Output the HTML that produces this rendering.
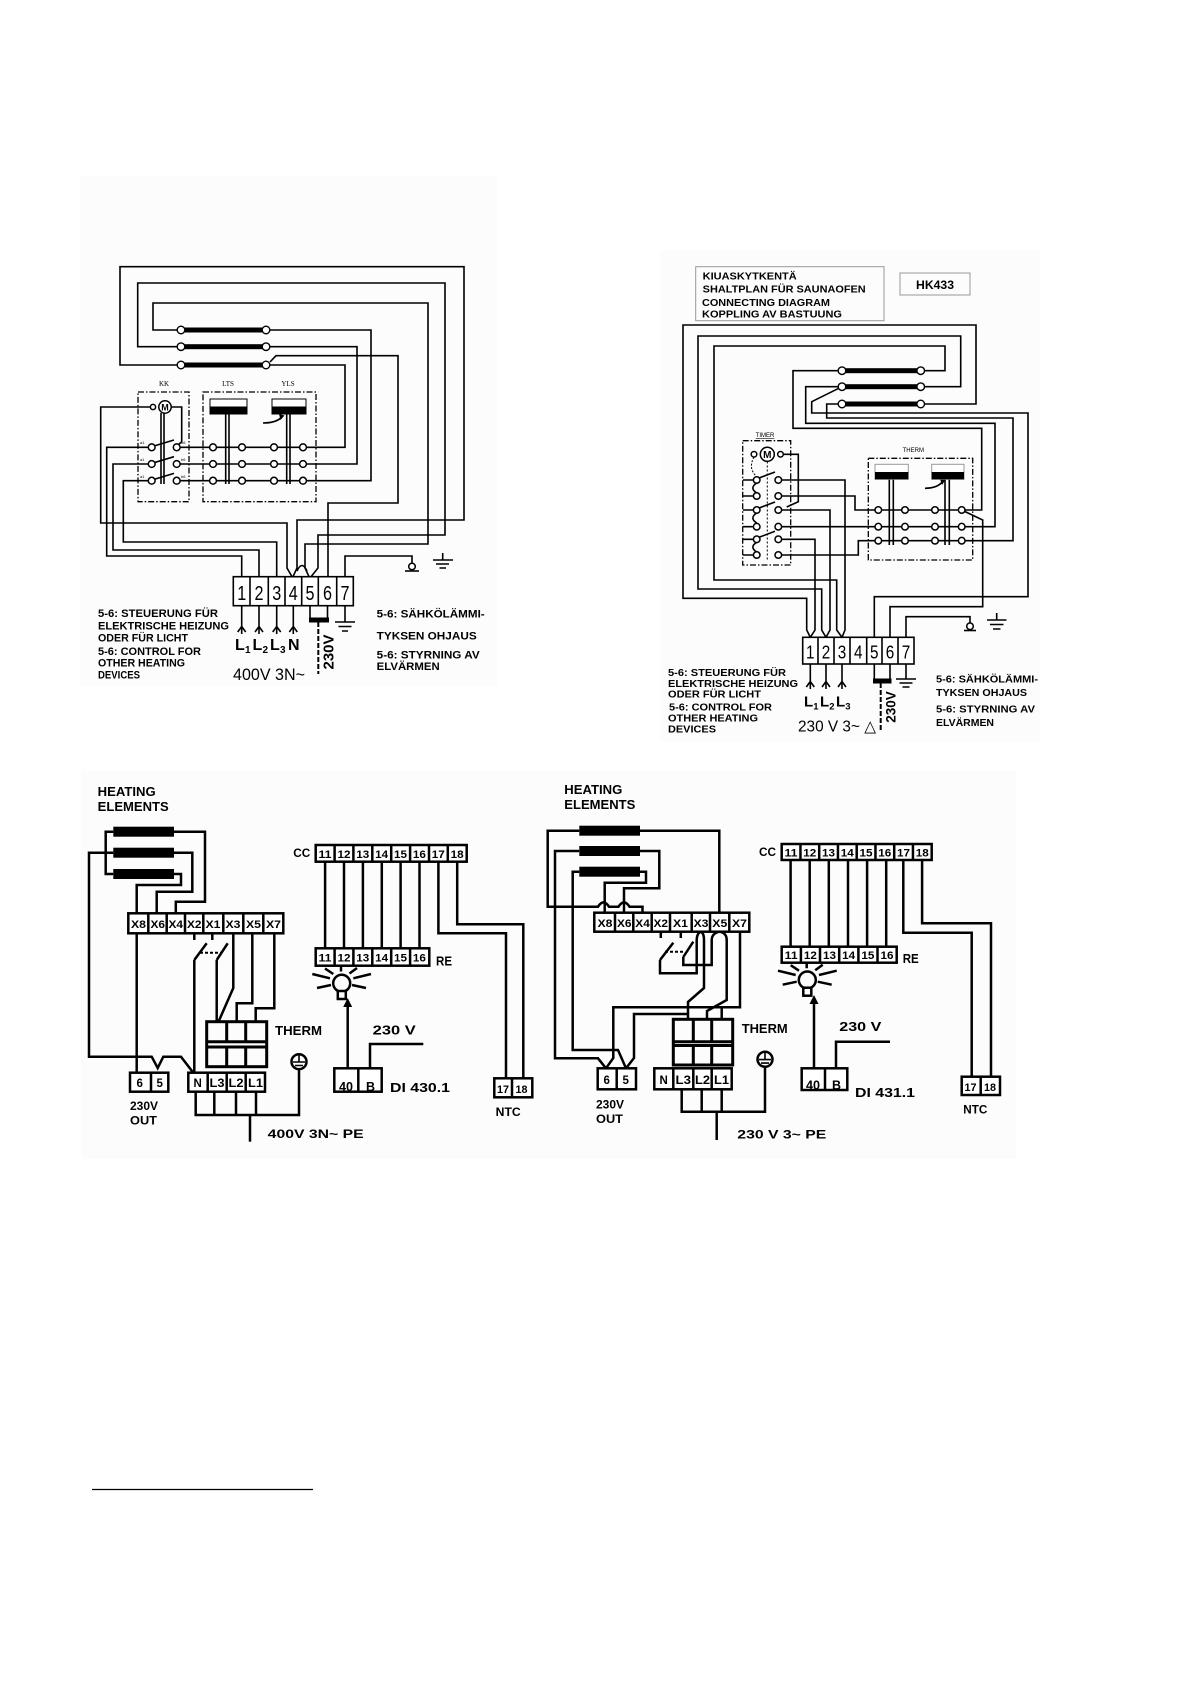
<!DOCTYPE html>
<html><head><meta charset="utf-8"><style>
html,body{margin:0;padding:0;background:#fff;}
svg{display:block}
text{font-family:"Liberation Sans",sans-serif;fill:#000;}
.b{font-weight:bold}
</style></head><body>
<svg width="1191" height="1685" viewBox="0 0 1191 1685" xmlns="http://www.w3.org/2000/svg">
<rect width="1191" height="1685" fill="#fff"/>
<rect x="80" y="176" width="417" height="510" fill="#fcfcfc"/>
<rect x="660" y="250" width="380" height="492" fill="#fcfcfc"/>
<rect x="81" y="771" width="935" height="388" fill="#fcfcfc"/>
<line x1="92" y1="1489.5" x2="313" y2="1489.5" stroke="#000" stroke-width="1.3"/>

<!-- ============ TOP LEFT ============ -->
<g fill="none" stroke="#000" stroke-width="1.6">
<path d="M181,365 H120 V266.7 H464 V520 H297 V568 L293,576.7"/>
<path d="M181,346.7 H137.7 V283 H445 V535 H318 V568 L311,576.7"/>
<path d="M181,330 H153 V303 H428 V544 H305 V568 L309,576.7"/>
<path d="M297,571 Q302,560 307,571"/>
<path d="M270,362 L276,355.7 H398 V503 H328 V576.7"/>
<path d="M270,330 H371 V480.7 H303"/>
<path d="M270,346.7 H357 V464 H303"/>
<path d="M270,365 H345 V447.3 H303"/>
<path d="M150,407 H100.7 V523 H287 V568 L292,576.7"/>
<path d="M241.7,576.7 V556 H106.7 V447.3 H150"/>
<path d="M259,576.7 V550 H113 V464 H150"/>
<path d="M276.7,576.7 V542 H123.3 V480.7 H150"/>
<path d="M176.7,447.3 H303 M176.7,464 H303 M176.7,480.7 H303"/>
<path d="M154,446 L174,440 M154,462.7 L174,456.7 M154,479.4 L174,473.4"/>
<path d="M161,413 V484 M164,413 V484"/>
<path d="M171,407 H181.7 V441.7 L177,446"/>
<path d="M225.7,414 V484 M229,414 V484 M286.7,414 V484 M290,414 V484"/>
<path d="M263,423 Q276,423 282,417"/>
<path d="M345,576.7 V556 H412 V563"/>
<path d="M405,571 H419"/>
<path d="M442.7,553 V560 M433,560 H453 M436,564 H449 M439.5,568 H446"/>
</g>
<path d="M279,414 L284.5,415.5 L280.5,420 Z" fill="#000"/>
<g fill="none" stroke="#000" stroke-width="1.3" stroke-dasharray="6 2 1.5 2">
<rect x="138" y="392" width="51" height="109.7"/>
<rect x="203" y="392" width="113" height="109.7"/>
</g>
<g>
<rect x="184" y="327.5" width="83" height="5" fill="#000"/>
<rect x="184" y="344.2" width="83" height="5" fill="#000"/>
<rect x="184" y="362.5" width="83" height="5" fill="#000"/>
<g fill="#fff" stroke="#000" stroke-width="1.4">
<circle cx="181" cy="330" r="3.8"/><circle cx="266" cy="330" r="3.8"/>
<circle cx="181" cy="346.7" r="3.8"/><circle cx="266" cy="346.7" r="3.8"/>
<circle cx="181" cy="365" r="3.8"/><circle cx="266" cy="365" r="3.8"/>
</g>
</g>
<g fill="#fff" stroke="#000" stroke-width="1.5">
<circle cx="151.7" cy="447.3" r="3.4"/><circle cx="176.7" cy="447.3" r="3.4"/><circle cx="213" cy="447.3" r="3.4"/><circle cx="242" cy="447.3" r="3.4"/><circle cx="274" cy="447.3" r="3.4"/><circle cx="303" cy="447.3" r="3.4"/>
<circle cx="151.7" cy="464" r="3.4"/><circle cx="176.7" cy="464" r="3.4"/><circle cx="213" cy="464" r="3.4"/><circle cx="242" cy="464" r="3.4"/><circle cx="274" cy="464" r="3.4"/><circle cx="303" cy="464" r="3.4"/>
<circle cx="151.7" cy="480.7" r="3.4"/><circle cx="176.7" cy="480.7" r="3.4"/><circle cx="213" cy="480.7" r="3.4"/><circle cx="242" cy="480.7" r="3.4"/><circle cx="274" cy="480.7" r="3.4"/><circle cx="303" cy="480.7" r="3.4"/>
<circle cx="165" cy="407" r="6.2"/><circle cx="153" cy="407" r="2.6"/>
<circle cx="412" cy="566.5" r="3.3"/>
</g>
<text x="165" y="410.5" font-size="9" class="b" text-anchor="middle">M</text>
<rect x="210" y="399" width="37" height="15" fill="#fff" stroke="#000" stroke-width="1"/>
<rect x="210" y="406.5" width="37" height="7.5" fill="#000"/>
<rect x="272" y="399" width="34" height="15" fill="#fff" stroke="#000" stroke-width="1"/>
<rect x="272" y="406.5" width="34" height="7.5" fill="#000"/>
<text x="164" y="386" font-size="7" text-anchor="middle" style="font-family:'Liberation Serif',serif">KK</text>
<text x="228" y="386" font-size="7" text-anchor="middle" style="font-family:'Liberation Serif',serif">LTS</text>
<text x="288" y="386" font-size="7" text-anchor="middle" style="font-family:'Liberation Serif',serif">YLS</text>
<g font-size="4" style="font-family:'Liberation Serif',serif">
<text x="140" y="444">a1</text><text x="140" y="461">a1</text><text x="140" y="478">a1</text>
<text x="181" y="444">b6</text><text x="181" y="461">b6</text><text x="181" y="478">b6</text>
</g>
<rect x="233.3" y="576.7" width="120" height="29" fill="#fff" stroke="#000" stroke-width="1.6"/>
<path d="M250,576.7 V605.7 M268.3,576.7 V605.7 M285,576.7 V605.7 M301.7,576.7 V605.7 M318.3,576.7 V605.7 M336.7,576.7 V605.7" stroke="#000" stroke-width="1.6"/>
<g font-size="20">
<text x="237.2" y="600" textLength="9" lengthAdjust="spacingAndGlyphs">1</text>
<text x="254.5" y="600" textLength="9" lengthAdjust="spacingAndGlyphs">2</text>
<text x="272.2" y="600" textLength="9" lengthAdjust="spacingAndGlyphs">3</text>
<text x="288.8" y="600" textLength="9" lengthAdjust="spacingAndGlyphs">4</text>
<text x="305.5" y="600" textLength="9" lengthAdjust="spacingAndGlyphs">5</text>
<text x="323" y="600" textLength="9" lengthAdjust="spacingAndGlyphs">6</text>
<text x="340.5" y="600" textLength="9" lengthAdjust="spacingAndGlyphs">7</text>
</g>
<g fill="none" stroke="#000" stroke-width="1.6">
<path d="M241.7,605.7 V634 M237.7,632 L241.7,626.5 L245.7,632"/>
<path d="M259,605.7 V634 M255,632 L259,626.5 L263,632"/>
<path d="M276.7,605.7 V634 M272.7,632 L276.7,626.5 L280.7,632"/>
<path d="M293.3,605.7 V634 M289.3,632 L293.3,626.5 L297.3,632"/>
<path d="M310,605.7 V620 M327.5,605.7 V620"/>
<path d="M345,605.7 V622 M335,622 H355 M338.5,626.5 H351.5 M342,631 H348"/>
</g>
<rect x="309" y="617.5" width="20" height="5" fill="#000"/>
<line x1="318.3" y1="622" x2="318.3" y2="674" stroke="#000" stroke-width="2" stroke-dasharray="5 2"/>
<text transform="translate(333.5,652) rotate(-90)" font-size="15" class="b" text-anchor="middle">230V</text>
<g class="b">
<text x="235" y="650" font-size="16">L</text><text x="245" y="653" font-size="10">1</text>
<text x="252.5" y="650" font-size="16">L</text><text x="262.5" y="653" font-size="10">2</text>
<text x="270" y="650" font-size="16">L</text><text x="280" y="653" font-size="10">3</text>
<text x="288" y="650" font-size="16">N</text>
</g>
<text x="233" y="680" font-size="17" textLength="72" lengthAdjust="spacingAndGlyphs">400V 3N~</text>
<g font-size="11" class="b">
<text x="98" y="617" textLength="120" lengthAdjust="spacingAndGlyphs">5-6: STEUERUNG FÜR</text>
<text x="98" y="629.3" textLength="131" lengthAdjust="spacingAndGlyphs">ELEKTRISCHE HEIZUNG</text>
<text x="98" y="641.7" textLength="90" lengthAdjust="spacingAndGlyphs">ODER FÜR LICHT</text>
<text x="98" y="655" textLength="103" lengthAdjust="spacingAndGlyphs">5-6: CONTROL FOR</text>
<text x="98" y="666.7" textLength="87" lengthAdjust="spacingAndGlyphs">OTHER HEATING</text>
<text x="98" y="678.3" textLength="42" lengthAdjust="spacingAndGlyphs">DEVICES</text>
<text x="376.7" y="617.3" textLength="108" lengthAdjust="spacingAndGlyphs">5-6: SÄHKÖLÄMMI-</text>
<text x="376.7" y="639.3" textLength="100" lengthAdjust="spacingAndGlyphs">TYKSEN OHJAUS</text>
<text x="376.7" y="658.3" textLength="103" lengthAdjust="spacingAndGlyphs">5-6: STYRNING AV</text>
<text x="376.7" y="670" textLength="63" lengthAdjust="spacingAndGlyphs">ELVÄRMEN</text>
</g>

<!-- ============ TOP RIGHT ============ -->
<rect x="695.7" y="266.7" width="188.3" height="54" fill="none" stroke="#999" stroke-width="1"/>
<g font-size="10.5" class="b">
<text x="702.7" y="279.5" textLength="94" lengthAdjust="spacingAndGlyphs">KIUASKYTKENTÄ</text>
<text x="702.7" y="292.5" textLength="163" lengthAdjust="spacingAndGlyphs">SHALTPLAN FÜR SAUNAOFEN</text>
<text x="702" y="306" textLength="128" lengthAdjust="spacingAndGlyphs">CONNECTING DIAGRAM</text>
<text x="702" y="317.5" textLength="140" lengthAdjust="spacingAndGlyphs">KOPPLING AV BASTUUNG</text>
</g>
<rect x="900" y="273" width="70" height="22" fill="none" stroke="#999" stroke-width="1"/>
<text x="916" y="289" font-size="12" class="b" textLength="38" lengthAdjust="spacingAndGlyphs">HK433</text>
<g fill="none" stroke="#000" stroke-width="1.6">
<path d="M920.7,370.7 H945 V346 H714 V580 H836.7 V630 L842,637.3"/>
<path d="M920.7,386.7 H960.7 V336 H698 V589 H821.7 V630 L826,637.3"/>
<path d="M920.7,404 H976 V325 H683 V598.3 H806.7 V630 L810.3,637.3"/>
<path d="M842,370.7 H793 V428.3 H981.7 V510 H961.7"/>
<path d="M842,386.7 L811.7,401.7 V413 H1028 V596.7 H874.3 V637.3"/>
<path d="M842,386.7 H805.7 V423.3 H995 V526.7 H961.7"/>
<path d="M842,404 H826.7 V418 H1013 V540.7 H961.7"/>
<path d="M961.7,510 L982.7,520 V606.7 H890 V637.3"/>
<path d="M778.3,480 H845 V630 L842,637.3"/>
<path d="M778.3,510 H830 V630 L826,637.3"/>
<path d="M778.3,539.3 H815 V630 L810.3,637.3"/>
<path d="M778.3,496 H855 V510 H961.7"/>
<path d="M778.3,526.7 H961.7"/>
<path d="M778.3,555 H858.3 V540.7 H961.7"/>
<path d="M743,480 H756.7 M743,496 H756.7 M743,510 H756.7 M743,526.7 H756.7 M743,539.3 H756.7 M743,555 H756.7"/>
<path d="M759,478 L775,472 M759,508 L775,502 M759,537.3 L775,531.3"/>
<path d="M756.7,483 Q749,488 756.7,493 M756.7,513 Q749,518 756.7,523 M756.7,542.3 Q749,547 756.7,552"/>
<path d="M782.3,454.3 H798.3 V501.7 L786.7,507"/>
<path d="M889.3,479.3 V545 M893.3,479.3 V545 M945,479.3 V545 M949.3,479.3 V545"/>
<path d="M925,488.3 Q938,488 942.5,481.5"/>
<path d="M906,637.3 V616.7 H970 V623"/>
<path d="M964,630.5 H976"/>
<path d="M996.7,613 V620 M987,620 H1006.5 M990,624.5 H1003.5 M993,629 H1000.5"/>
</g>
<path d="M940,479 L945.5,480 L942,485 Z" fill="#000"/>
<path d="M754,457 Q748,468 756,476" fill="none" stroke="#000" stroke-width="1" stroke-dasharray="2 1.5"/>
<line x1="767.3" y1="461.5" x2="767.3" y2="560" stroke="#000" stroke-width="1" stroke-dasharray="2 2"/>
<g fill="none" stroke="#000" stroke-width="1.3" stroke-dasharray="6 2 1.5 2">
<rect x="742.7" y="440.7" width="48" height="124.3"/>
<rect x="868.3" y="458.3" width="104.4" height="101.7"/>
</g>
<rect x="845" y="368.2" width="73" height="5" fill="#000"/>
<rect x="845" y="384.2" width="73" height="5" fill="#000"/>
<rect x="845" y="401.5" width="73" height="5" fill="#000"/>
<g fill="#fff" stroke="#000" stroke-width="1.4">
<circle cx="842" cy="370.7" r="3.8"/><circle cx="920.7" cy="370.7" r="3.8"/>
<circle cx="842" cy="386.7" r="3.8"/><circle cx="920.7" cy="386.7" r="3.8"/>
<circle cx="842" cy="404" r="3.8"/><circle cx="920.7" cy="404" r="3.8"/>
</g>
<g fill="#fff" stroke="#000" stroke-width="1.5">
<circle cx="756.7" cy="480" r="3.3"/><circle cx="778.3" cy="480" r="3.3"/>
<circle cx="756.7" cy="496" r="3.3"/><circle cx="778.3" cy="496" r="3.3"/>
<circle cx="756.7" cy="510" r="3.3"/><circle cx="778.3" cy="510" r="3.3"/>
<circle cx="756.7" cy="526.7" r="3.3"/><circle cx="778.3" cy="526.7" r="3.3"/>
<circle cx="756.7" cy="539.3" r="3.3"/><circle cx="778.3" cy="539.3" r="3.3"/>
<circle cx="756.7" cy="555" r="3.3"/><circle cx="778.3" cy="555" r="3.3"/>
<circle cx="878.3" cy="510" r="3.3"/><circle cx="905" cy="510" r="3.3"/><circle cx="935" cy="510" r="3.3"/><circle cx="961.7" cy="510" r="3.3"/>
<circle cx="878.3" cy="526.7" r="3.3"/><circle cx="905" cy="526.7" r="3.3"/><circle cx="935" cy="526.7" r="3.3"/><circle cx="961.7" cy="526.7" r="3.3"/>
<circle cx="878.3" cy="540.7" r="3.3"/><circle cx="905" cy="540.7" r="3.3"/><circle cx="935" cy="540.7" r="3.3"/><circle cx="961.7" cy="540.7" r="3.3"/>
<circle cx="767.3" cy="454.3" r="7"/><circle cx="754" cy="454.3" r="2.8"/><circle cx="780.5" cy="454.3" r="2.8"/>
<circle cx="970" cy="626.3" r="3.3"/>
</g>
<text x="767.3" y="458" font-size="10" class="b" text-anchor="middle">M</text>
<text x="765" y="437" font-size="6" text-anchor="middle" text-decoration="underline">TIMER</text>
<text x="913.3" y="452" font-size="6" text-anchor="middle">THERM</text>
<rect x="875" y="464.3" width="33.3" height="15" fill="#fff" stroke="#999" stroke-width="1"/>
<rect x="875" y="472" width="33.3" height="7.3" fill="#000"/>
<rect x="931.7" y="464.3" width="32.3" height="15" fill="#fff" stroke="#999" stroke-width="1"/>
<rect x="931.7" y="472" width="32.3" height="7.3" fill="#000"/>
<rect x="802.7" y="637.3" width="111.3" height="26.7" fill="#fff" stroke="#000" stroke-width="1.6"/>
<path d="M818,637.3 V664 M834,637.3 V664 M850,637.3 V664 M866.7,637.3 V664 M882,637.3 V664 M898,637.3 V664" stroke="#000" stroke-width="1.6"/>
<g font-size="18.5">
<text x="806" y="658.5" textLength="8.5" lengthAdjust="spacingAndGlyphs">1</text>
<text x="821.8" y="658.5" textLength="8.5" lengthAdjust="spacingAndGlyphs">2</text>
<text x="837.8" y="658.5" textLength="8.5" lengthAdjust="spacingAndGlyphs">3</text>
<text x="854" y="658.5" textLength="8.5" lengthAdjust="spacingAndGlyphs">4</text>
<text x="870" y="658.5" textLength="8.5" lengthAdjust="spacingAndGlyphs">5</text>
<text x="885.8" y="658.5" textLength="8.5" lengthAdjust="spacingAndGlyphs">6</text>
<text x="901.8" y="658.5" textLength="8.5" lengthAdjust="spacingAndGlyphs">7</text>
</g>
<g fill="none" stroke="#000" stroke-width="1.6">
<path d="M810.3,664 V689 M806.3,687 L810.3,681.5 L814.3,687"/>
<path d="M826,664 V689 M822,687 L826,681.5 L830,687"/>
<path d="M842,664 V689 M838,687 L842,681.5 L846,687"/>
<path d="M874.3,664 V680 M890,664 V680"/>
<path d="M906,664 V679 M896,679 H916 M899.5,683 H912.5 M902.5,687 H909.5"/>
</g>
<rect x="873" y="678.5" width="18.5" height="5" fill="#000"/>
<line x1="880.7" y1="683" x2="880.7" y2="731" stroke="#000" stroke-width="2" stroke-dasharray="5 2"/>
<text transform="translate(895.5,707) rotate(-90)" font-size="13.5" class="b" text-anchor="middle">230V</text>
<g class="b">
<text x="804" y="706.7" font-size="15">L</text><text x="813.3" y="709.5" font-size="9.5">1</text>
<text x="820" y="706.7" font-size="15">L</text><text x="829.3" y="709.5" font-size="9.5">2</text>
<text x="836" y="706.7" font-size="15">L</text><text x="845.3" y="709.5" font-size="9.5">3</text>
</g>
<text x="798" y="731.7" font-size="16" textLength="78" lengthAdjust="spacingAndGlyphs">230 V 3~ △</text>
<g font-size="10.5" class="b">
<text x="668" y="676" textLength="118" lengthAdjust="spacingAndGlyphs">5-6: STEUERUNG FÜR</text>
<text x="668" y="687" textLength="130" lengthAdjust="spacingAndGlyphs">ELEKTRISCHE HEIZUNG</text>
<text x="668" y="697.5" textLength="93" lengthAdjust="spacingAndGlyphs">ODER FÜR LICHT</text>
<text x="669" y="710.5" textLength="103" lengthAdjust="spacingAndGlyphs">5-6: CONTROL FOR</text>
<text x="668" y="721.7" textLength="90" lengthAdjust="spacingAndGlyphs">OTHER HEATING</text>
<text x="668" y="732.7" textLength="48" lengthAdjust="spacingAndGlyphs">DEVICES</text>
<text x="936" y="682.3" textLength="102" lengthAdjust="spacingAndGlyphs">5-6: SÄHKÖLÄMMI-</text>
<text x="936" y="696" textLength="91" lengthAdjust="spacingAndGlyphs">TYKSEN OHJAUS</text>
<text x="936" y="712.3" textLength="99" lengthAdjust="spacingAndGlyphs">5-6: STYRNING AV</text>
<text x="936" y="726" textLength="58" lengthAdjust="spacingAndGlyphs">ELVÄRMEN</text>
</g>

<!-- ============ BOTTOM LEFT ============ -->
<g font-size="13" class="b">
<text x="97.7" y="796" textLength="58" lengthAdjust="spacingAndGlyphs">HEATING</text>
<text x="97.7" y="811" textLength="71" lengthAdjust="spacingAndGlyphs">ELEMENTS</text>
</g>
<g fill="none" stroke="#000" stroke-width="2.5">
<path d="M113.3,831.7 H105.7 V874 H113.3"/>
<path d="M113.3,852.7 H89 V1056.7 H151.7 L157.7,1068 L163.3,1056.7 H181 L193.3,1072.7"/>
<path d="M174,831.7 H205 V901.7 H175.8 V913.3"/>
<path d="M174,852.7 H192.3 V891.7 H156.7 V913.3"/>
<path d="M174,874 H181 V885 H136.7 V1072.7"/>
<path d="M194.3,933.3 V940 M212.3,933.3 V940"/>
<path d="M194.3,960 L206.7,943.3 M216.7,960 L227.7,943.3"/>
<path d="M194.3,960 V1072.7"/>
<path d="M216.7,960 V1021.7"/>
<path d="M233.3,933.3 V988 L218.5,1021.7"/>
<path d="M252.3,933.3 V1003.3 H236.7 V1021.7"/>
<path d="M274.3,933.3 V1008.3 H255.7 V1021.7"/>
<path d="M195.7,1091.7 V1115 H299 V1069.2"/>
<path d="M214.3,1091.7 V1115 M236,1091.7 V1115 M256,1091.7 V1115"/>
<path d="M250,1115 V1141.7"/>
<circle cx="299" cy="1061.7" r="7.5"/>
<path d="M325.1,861.7 V948.3 M344,861.7 V948.3 M362.9,861.7 V948.3 M381.8,861.7 V948.3 M400.6,861.7 V948.3 M419.5,861.7 V948.3"/>
<path d="M438.4,861.7 V933.3 H506 V1078.3"/>
<path d="M457.2,861.7 V924.3 H523.3 V1078.3"/>
<circle cx="341.7" cy="983.3" r="8.5"/>
<path d="M312.3,974 L330,978.3 M325,968.5 L333.3,974 M341,964.5 V971.5 M349.5,973.5 L357,968 M353.3,978.3 L371,974 M317,988 L331,985 M352,985 L366,988"/>
<path d="M347.7,1068.3 V1005"/>
<path d="M370,1068.3 V1044 H423.3"/>
</g>
<line x1="200" y1="952.7" x2="222" y2="952.7" stroke="#000" stroke-width="2" stroke-dasharray="3 2"/>
<path d="M299,1055 V1062 M293,1062 H305 M295,1065.5 H303 M297.3,1069 H300.7" stroke="#000" stroke-width="1.6" fill="none"/>
<path d="M347.7,998 L343.2,1007 L352.2,1007 Z" fill="#000"/>
<rect x="337.8" y="991" width="8" height="8" fill="#fff" stroke="#000" stroke-width="2.5"/>
<rect x="113.3" y="826.7" width="60.7" height="10" fill="#000"/>
<rect x="113.3" y="847.7" width="60.7" height="10" fill="#000"/>
<rect x="113.3" y="869" width="60.7" height="10" fill="#000"/>
<rect x="128.3" y="913.3" width="155" height="20" fill="#fff" stroke="#000" stroke-width="2.5"/>
<path d="M148.3,913.3 V933.3 M166.7,913.3 V933.3 M185,913.3 V933.3 M203.3,913.3 V933.3 M223.3,913.3 V933.3 M243.3,913.3 V933.3 M263.3,913.3 V933.3" stroke="#000" stroke-width="2.5"/>
<g font-size="11" class="b">
<text x="131" y="928" textLength="15" lengthAdjust="spacingAndGlyphs">X8</text>
<text x="150.5" y="928" textLength="14.5" lengthAdjust="spacingAndGlyphs">X6</text>
<text x="168.5" y="928" textLength="14.5" lengthAdjust="spacingAndGlyphs">X4</text>
<text x="187" y="928" textLength="14.5" lengthAdjust="spacingAndGlyphs">X2</text>
<text x="205.5" y="928" textLength="15" lengthAdjust="spacingAndGlyphs">X1</text>
<text x="225.5" y="928" textLength="15" lengthAdjust="spacingAndGlyphs">X3</text>
<text x="246" y="928" textLength="15" lengthAdjust="spacingAndGlyphs">X5</text>
<text x="266" y="928" textLength="15" lengthAdjust="spacingAndGlyphs">X7</text>
</g>
<g fill="none" stroke="#000" stroke-width="3">
<rect x="206.7" y="1021.7" width="60" height="45"/>
<path d="M206.7,1041.7 H266.7 M206.7,1047 H266.7 M226.7,1021.7 V1041.7 M245.7,1021.7 V1041.7 M226.7,1047 V1066.7 M245.7,1047 V1066.7"/>
</g>
<text x="275" y="1035" font-size="13" class="b" textLength="47" lengthAdjust="spacingAndGlyphs">THERM</text>
<g fill="#fff" stroke="#000" stroke-width="2.5">
<rect x="130" y="1072.7" width="38.3" height="19"/>
<rect x="188.3" y="1072.7" width="76.7" height="19"/>
</g>
<path d="M151,1072.7 V1091.7 M207.7,1072.7 V1091.7 M226.7,1072.7 V1091.7 M245.7,1072.7 V1091.7" stroke="#000" stroke-width="2.5"/>
<g font-size="11.5" class="b">
<text x="136.5" y="1087">6</text>
<text x="156.5" y="1087">5</text>
<text x="193.5" y="1087">N</text>
<text x="209.5" y="1087" textLength="15" lengthAdjust="spacingAndGlyphs">L3</text>
<text x="228.5" y="1087" textLength="15" lengthAdjust="spacingAndGlyphs">L2</text>
<text x="248" y="1087" textLength="15" lengthAdjust="spacingAndGlyphs">L1</text>
</g>
<g font-size="12" class="b">
<text x="130" y="1110" textLength="28" lengthAdjust="spacingAndGlyphs">230V</text>
<text x="130" y="1124.5" textLength="27" lengthAdjust="spacingAndGlyphs">OUT</text>
<text x="267.7" y="1138" textLength="96" lengthAdjust="spacingAndGlyphs">400V 3N~ PE</text>
</g>
<text x="293.3" y="857" font-size="12" class="b" textLength="17" lengthAdjust="spacingAndGlyphs">CC</text>
<rect x="315.7" y="845" width="151" height="16.7" fill="#fff" stroke="#000" stroke-width="2.5"/>
<path d="M334.6,845 V861.7 M353.4,845 V861.7 M372.3,845 V861.7 M391.2,845 V861.7 M410.1,845 V861.7 M429,845 V861.7 M447.8,845 V861.7" stroke="#000" stroke-width="2.5"/>
<rect x="315.7" y="948.3" width="113.6" height="17.4" fill="#fff" stroke="#000" stroke-width="2.5"/>
<path d="M334.6,948.3 V965.7 M353.4,948.3 V965.7 M372.3,948.3 V965.7 M391.2,948.3 V965.7 M410.1,948.3 V965.7" stroke="#000" stroke-width="2.5"/>
<g font-size="11" class="b">
<text x="318.5" y="858" textLength="13" lengthAdjust="spacingAndGlyphs">11</text>
<text x="337.5" y="858" textLength="13" lengthAdjust="spacingAndGlyphs">12</text>
<text x="356.3" y="858" textLength="13" lengthAdjust="spacingAndGlyphs">13</text>
<text x="375.2" y="858" textLength="13" lengthAdjust="spacingAndGlyphs">14</text>
<text x="394" y="858" textLength="13" lengthAdjust="spacingAndGlyphs">15</text>
<text x="412.9" y="858" textLength="13" lengthAdjust="spacingAndGlyphs">16</text>
<text x="431.8" y="858" textLength="13" lengthAdjust="spacingAndGlyphs">17</text>
<text x="450.6" y="858" textLength="13" lengthAdjust="spacingAndGlyphs">18</text>
<text x="318.5" y="961.5" textLength="13" lengthAdjust="spacingAndGlyphs">11</text>
<text x="337.5" y="961.5" textLength="13" lengthAdjust="spacingAndGlyphs">12</text>
<text x="356.3" y="961.5" textLength="13" lengthAdjust="spacingAndGlyphs">13</text>
<text x="375.2" y="961.5" textLength="13" lengthAdjust="spacingAndGlyphs">14</text>
<text x="394" y="961.5" textLength="13" lengthAdjust="spacingAndGlyphs">15</text>
<text x="412.9" y="961.5" textLength="13" lengthAdjust="spacingAndGlyphs">16</text>
</g>
<text x="436" y="965.5" font-size="13" class="b" textLength="16" lengthAdjust="spacingAndGlyphs">RE</text>
<rect x="494.3" y="1078.3" width="38" height="19" fill="#fff" stroke="#000" stroke-width="2.5"/>
<path d="M512,1078.3 V1097.3" stroke="#000" stroke-width="2.5"/>
<g font-size="11" class="b">
<text x="497" y="1093" textLength="12" lengthAdjust="spacingAndGlyphs">17</text>
<text x="515.5" y="1093" textLength="12" lengthAdjust="spacingAndGlyphs">18</text>
</g>
<text x="495.7" y="1116" font-size="11.5" class="b" textLength="25" lengthAdjust="spacingAndGlyphs">NTC</text>
<rect x="334.3" y="1068.3" width="47.4" height="23.4" fill="#fff" stroke="#000" stroke-width="2.5"/>
<path d="M358.3,1068.3 V1091.7" stroke="#000" stroke-width="2.5"/>
<g font-size="12.5" class="b">
<text x="339" y="1091" textLength="14" lengthAdjust="spacingAndGlyphs">40</text>
<text x="366" y="1091">B</text>
</g>
<text x="372.7" y="1034.5" font-size="13" class="b" textLength="43" lengthAdjust="spacingAndGlyphs">230 V</text>
<text x="390" y="1092" font-size="13" class="b" textLength="60" lengthAdjust="spacingAndGlyphs">DI 430.1</text>

<!-- ============ BOTTOM RIGHT ============ -->
<g font-size="13" class="b">
<text x="564.3" y="794" textLength="58" lengthAdjust="spacingAndGlyphs">HEATING</text>
<text x="564.3" y="809" textLength="71" lengthAdjust="spacingAndGlyphs">ELEMENTS</text>
</g>
<g fill="none" stroke="#000" stroke-width="2.5">
<path d="M579.3,830.7 H547.7 V906.7 H598 Q603.5,898 609,906.7 H618.5 Q624,898 629.5,906.7 H642.5 V912.7"/>
<path d="M640,830.7 H719.3 V912.7"/>
<path d="M579.3,851 H555 V1058.3 H598 L606,1068.3"/>
<path d="M579.3,871.7 H572.7 V1050 H618 L626,1068.3"/>
<path d="M640,851 H659.3 V888.3 H624 V912.7"/>
<path d="M640,871.7 H646 V882.7 H604.7 V912.7"/>
<path d="M660.8,931.7 V938 M680.8,931.7 V938"/>
<path d="M660,960 L673.3,942.7 M683.3,957 L693.3,941.7"/>
<path d="M660,960 V973.3 H696.7 V940 Q697,933 700.8,931.7 Q704,933 704,940 V988 L688,1002 V1019.3"/>
<path d="M683.3,957 V965 H711.7 V940 Q712,933 719.7,931.7 Q726.7,933 726.7,940 V1000 L707,1011 V1019.3"/>
<path d="M740,931.7 V1007.3 H613.3 V1058 L606,1068.3"/>
<path d="M721.7,1007.3 V1019.3"/>
<path d="M688,1014 H634 V1058 L626,1068.3"/>
<path d="M681.7,1089.3 V1111.7 H765 V1066.8"/>
<path d="M701.7,1089.3 V1111.7 M721.7,1089.3 V1111.7"/>
<path d="M716.7,1111.7 V1140"/>
<circle cx="765" cy="1059.3" r="7.5"/>
<path d="M790.6,860 V946.7 M809.7,860 V946.7 M828.8,860 V946.7 M848,860 V946.7 M867.1,860 V946.7 M886.2,860 V946.7"/>
<path d="M903.3,860 V932.7 H971.7 V1076.7"/>
<path d="M922.1,860 V923.3 H991 V1076.7"/>
<circle cx="807.3" cy="980" r="8.5"/>
<path d="M778,970.7 L795.7,975 M790.7,965.2 L799,970.7 M806.7,961.2 V968.2 M815.2,970.2 L822.7,964.7 M819,975 L836.7,970.7 M782.7,984.7 L796.7,981.7 M817.7,981.7 L831.7,984.7"/>
<path d="M814,1068.3 V1002"/>
<path d="M836,1068.3 V1041.7 H890"/>
</g>
<line x1="665" y1="951.7" x2="684" y2="951.7" stroke="#000" stroke-width="2" stroke-dasharray="3 2"/>
<path d="M765,1052.6 V1059.6 M759,1059.6 H771 M761,1063.1 H769 M763.3,1066.6 H766.7" stroke="#000" stroke-width="1.6" fill="none"/>
<path d="M814,995 L809.5,1004 L818.5,1004 Z" fill="#000"/>
<rect x="803.3" y="987.7" width="8" height="8" fill="#fff" stroke="#000" stroke-width="2.5"/>
<rect x="579.3" y="825.7" width="60.7" height="10" fill="#000"/>
<rect x="579.3" y="846" width="60.7" height="10" fill="#000"/>
<rect x="579.3" y="866.7" width="60.7" height="10" fill="#000"/>
<rect x="594.3" y="912.7" width="155" height="19" fill="#fff" stroke="#000" stroke-width="2.5"/>
<path d="M615,912.7 V931.7 M633.3,912.7 V931.7 M651.7,912.7 V931.7 M670,912.7 V931.7 M691.7,912.7 V931.7 M710,912.7 V931.7 M729.3,912.7 V931.7" stroke="#000" stroke-width="2.5"/>
<g font-size="11" class="b">
<text x="597.5" y="927" textLength="15" lengthAdjust="spacingAndGlyphs">X8</text>
<text x="617" y="927" textLength="14.5" lengthAdjust="spacingAndGlyphs">X6</text>
<text x="635.3" y="927" textLength="14.5" lengthAdjust="spacingAndGlyphs">X4</text>
<text x="653.5" y="927" textLength="14.5" lengthAdjust="spacingAndGlyphs">X2</text>
<text x="673" y="927" textLength="15" lengthAdjust="spacingAndGlyphs">X1</text>
<text x="693.5" y="927" textLength="15" lengthAdjust="spacingAndGlyphs">X3</text>
<text x="712.3" y="927" textLength="15" lengthAdjust="spacingAndGlyphs">X5</text>
<text x="732" y="927" textLength="15" lengthAdjust="spacingAndGlyphs">X7</text>
</g>
<g fill="none" stroke="#000" stroke-width="3">
<rect x="673.3" y="1019.3" width="59.4" height="45.7"/>
<path d="M673.3,1041.7 H732.7 M673.3,1045.5 H732.7 M693.3,1019.3 V1041.7 M711.7,1019.3 V1041.7 M693.3,1045.5 V1065 M711.7,1045.5 V1065"/>
</g>
<text x="741.7" y="1033" font-size="13" class="b" textLength="46" lengthAdjust="spacingAndGlyphs">THERM</text>
<g fill="#fff" stroke="#000" stroke-width="2.5">
<rect x="597.7" y="1068.3" width="38.3" height="21"/>
<rect x="654.3" y="1068.3" width="77.4" height="21"/>
</g>
<path d="M616.7,1068.3 V1089.3 M673.3,1068.3 V1089.3 M693.3,1068.3 V1089.3 M711.7,1068.3 V1089.3" stroke="#000" stroke-width="2.5"/>
<g font-size="11.5" class="b">
<text x="603.5" y="1084">6</text>
<text x="622.5" y="1084">5</text>
<text x="659.5" y="1084">N</text>
<text x="675.5" y="1084" textLength="15.5" lengthAdjust="spacingAndGlyphs">L3</text>
<text x="695" y="1084" textLength="15" lengthAdjust="spacingAndGlyphs">L2</text>
<text x="714" y="1084" textLength="15" lengthAdjust="spacingAndGlyphs">L1</text>
</g>
<g font-size="12" class="b">
<text x="596" y="1108.5" textLength="28" lengthAdjust="spacingAndGlyphs">230V</text>
<text x="596" y="1123" textLength="27" lengthAdjust="spacingAndGlyphs">OUT</text>
<text x="737.3" y="1138.5" textLength="89" lengthAdjust="spacingAndGlyphs">230 V 3~ PE</text>
</g>
<text x="759" y="856" font-size="12" class="b" textLength="17" lengthAdjust="spacingAndGlyphs">CC</text>
<rect x="781.7" y="844" width="150" height="16" fill="#fff" stroke="#000" stroke-width="2.5"/>
<path d="M800.45,844 V860 M819.2,844 V860 M837.95,844 V860 M856.7,844 V860 M875.45,844 V860 M894.2,844 V860 M912.95,844 V860" stroke="#000" stroke-width="2.5"/>
<rect x="781.7" y="946.7" width="115" height="16" fill="#fff" stroke="#000" stroke-width="2.5"/>
<path d="M800.9,946.7 V962.7 M820,946.7 V962.7 M839.2,946.7 V962.7 M858.4,946.7 V962.7 M877.5,946.7 V962.7" stroke="#000" stroke-width="2.5"/>
<g font-size="11" class="b">
<text x="784.5" y="856.5" textLength="13" lengthAdjust="spacingAndGlyphs">11</text>
<text x="803.3" y="856.5" textLength="13" lengthAdjust="spacingAndGlyphs">12</text>
<text x="822" y="856.5" textLength="13" lengthAdjust="spacingAndGlyphs">13</text>
<text x="840.8" y="856.5" textLength="13" lengthAdjust="spacingAndGlyphs">14</text>
<text x="859.5" y="856.5" textLength="13" lengthAdjust="spacingAndGlyphs">15</text>
<text x="878.3" y="856.5" textLength="13" lengthAdjust="spacingAndGlyphs">16</text>
<text x="897" y="856.5" textLength="13" lengthAdjust="spacingAndGlyphs">17</text>
<text x="915.8" y="856.5" textLength="13" lengthAdjust="spacingAndGlyphs">18</text>
<text x="784.7" y="959" textLength="13" lengthAdjust="spacingAndGlyphs">11</text>
<text x="803.9" y="959" textLength="13" lengthAdjust="spacingAndGlyphs">12</text>
<text x="823" y="959" textLength="13" lengthAdjust="spacingAndGlyphs">13</text>
<text x="842.2" y="959" textLength="13" lengthAdjust="spacingAndGlyphs">14</text>
<text x="861.4" y="959" textLength="13" lengthAdjust="spacingAndGlyphs">15</text>
<text x="880.5" y="959" textLength="13" lengthAdjust="spacingAndGlyphs">16</text>
</g>
<text x="902.7" y="963" font-size="13" class="b" textLength="16" lengthAdjust="spacingAndGlyphs">RE</text>
<rect x="961.7" y="1076.7" width="38.3" height="18.3" fill="#fff" stroke="#000" stroke-width="2.5"/>
<path d="M980.7,1076.7 V1095" stroke="#000" stroke-width="2.5"/>
<g font-size="11" class="b">
<text x="964.5" y="1091" textLength="12" lengthAdjust="spacingAndGlyphs">17</text>
<text x="984" y="1091" textLength="12" lengthAdjust="spacingAndGlyphs">18</text>
</g>
<text x="963.3" y="1113.5" font-size="11.5" class="b" textLength="24" lengthAdjust="spacingAndGlyphs">NTC</text>
<rect x="801.7" y="1068.3" width="45.6" height="21.7" fill="#fff" stroke="#000" stroke-width="2.5"/>
<path d="M825,1068.3 V1090" stroke="#000" stroke-width="2.5"/>
<g font-size="12.5" class="b">
<text x="806" y="1089.5" textLength="14" lengthAdjust="spacingAndGlyphs">40</text>
<text x="832" y="1089.5">B</text>
</g>
<text x="839.3" y="1031" font-size="13" class="b" textLength="42" lengthAdjust="spacingAndGlyphs">230 V</text>
<text x="855" y="1097" font-size="13" class="b" textLength="60" lengthAdjust="spacingAndGlyphs">DI 431.1</text>
</svg>
</body></html>
